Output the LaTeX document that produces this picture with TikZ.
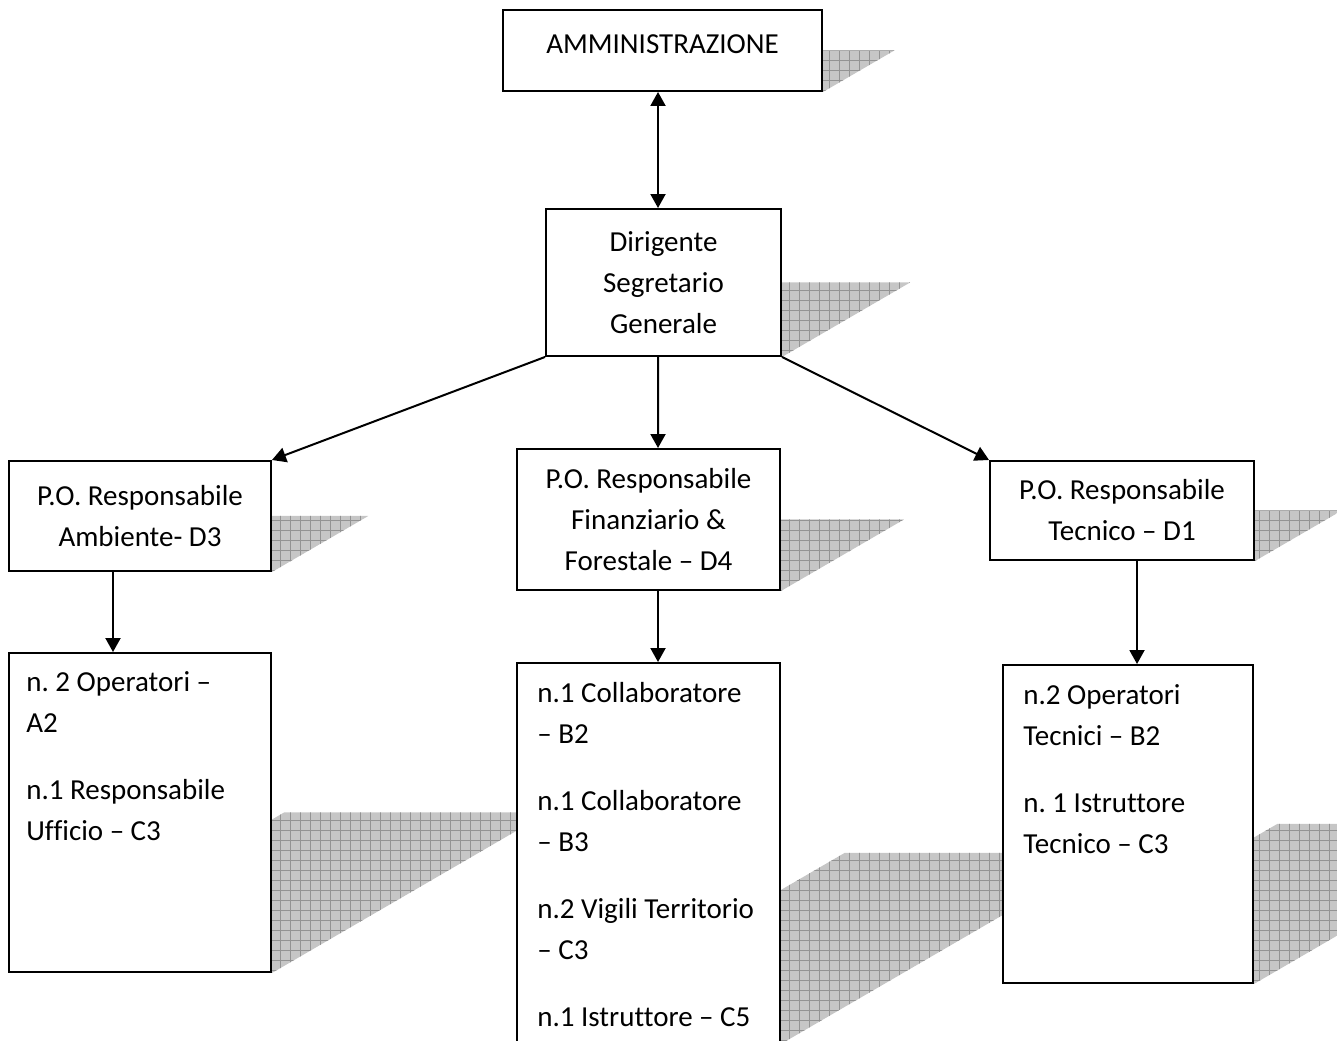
\documentclass[tikz,border=0pt]{standalone}
\usepackage{fontspec}
\setmainfont{Carlito}[Ligatures=NoCommon]
\frenchspacing
\usetikzlibrary{arrows.meta,calc,backgrounds}
\tikzset{
  box/.style={draw, line width=0.04cm, fill=white, inner sep=0pt, align=center},
  arr/.style={line width=0.04cm, -{Triangle[length=0.28cm,width=0.3cm]}},
  dblarr/.style={line width=0.04cm, {Triangle[length=0.28cm,width=0.3cm]}-{Triangle[length=0.28cm,width=0.3cm]}},
  listtext/.style={anchor=north west, inner sep=0pt, align=left},
  shadefill/.style={fill=gray!45},
  shadegrid/.style={draw=gray!85, line width=0.016cm},
}
% slanted half-height shadow behind a box
\newcommand{\boxshadow}[1]{%
  \begin{scope}
    \clip let \p1=(#1.south west), \p2=(#1.north east), \n1={0.5*(\y2-\y1)} in
      (\x1,\y1) -- (\x2,\y1) -- (\x2+1.72*\n1,\y1+\n1) -- (\x1+1.72*\n1,\y1+\n1) -- cycle;
    \fill[shadefill] (#1.south west) rectangle ++(700,250);
    \draw[shadegrid, step=0.2cm] (#1.south west) grid ++(700,250);
  \end{scope}}
\begin{document}
\begin{tikzpicture}[x=0.02cm, y=0.02cm, font=\fontsize{16.5pt}{23.3pt}\selectfont]
    \useasboundingbox (0,0) rectangle (1337,1040);
    % top
    \node[box, minimum width=6.38cm, minimum height=1.62cm, text depth=0.24cm] (amm) at (662.5,989.5) {AMMINISTRAZIONE};
    \node[box, minimum width=4.70cm, minimum height=2.94cm] (dir) at (663.5,757.5) {Dirigente\\Segretario\\Generale};
    % P.O.
    \node[box, minimum width=5.24cm, minimum height=2.20cm] (poA) at (140,524) {P.O. Responsabile\\Ambiente- D3};
    \node[box, minimum width=5.26cm, minimum height=2.82cm] (poF) at (648.5,520.5) {P.O. Responsabile\\Finanziario \&\\Forestale – D4};
    \node[box, minimum width=5.28cm, minimum height=1.98cm] (poT) at (1122,529.5) {P.O. Responsabile\\Tecnico – D1};
    % staff
    \node[box, minimum width=5.24cm, minimum height=6.38cm] (opA) at (140,227.5) {};
    \node[box, minimum width=5.26cm, minimum height=7.60cm] (opF) at (648.5,187) {};
    \node[box, minimum width=5.00cm, minimum height=6.36cm] (opT) at (1128,216) {};
    \node[listtext] (opAtxt) at ($(opA.north west)+(18,-19)$) {n. 2 Operatori –\\A2\\[0.52cm]n.1 Responsabile\\Ufficio – C3};
    \node[listtext] (opFtxt) at ($(opF.north west)+(21,-20)$) {n.1 Collaboratore\\– B2\\[0.52cm]n.1 Collaboratore\\– B3\\[0.52cm]n.2 Vigili Territorio\\– C3\\[0.52cm]n.1 Istruttore – C5};
    \node[listtext] (opTtxt) at ($(opT.north west)+(21,-20)$) {n.2 Operatori\\Tecnici – B2\\[0.52cm]n. 1 Istruttore\\Tecnico – C3};
    % shadows
    \begin{pgfonlayer}{background}
        \boxshadow{amm}
        \boxshadow{dir}
        \boxshadow{poA}
        \boxshadow{poF}
        \boxshadow{poT}
        \boxshadow{opA}
        \boxshadow{opF}
        \boxshadow{opT}
    \end{pgfonlayer}
    % arrows
    \draw[dblarr] ($(amm.south)+(-4.5,0)$) -- ($(dir.north)+(-5.5,0)$);
    \draw[arr] (dir.south west) -- (poA.north east);
    \draw[arr] ($(dir.south)+(-5.5,0)$) -- ($(poF.north)+(9.5,0)$);
    \draw[arr] (dir.south east) -- (poT.north west);
    \draw[arr] ($(poA.south)+(-27,0)$) -- ($(opA.north)+(-27,0)$);
    \draw[arr] ($(poF.south)+(9.5,0)$) -- ($(opF.north)+(9.5,0)$);
    \draw[arr] ($(poT.south)+(15,0)$) -- ($(opT.north)+(9,0)$);
\end{tikzpicture}
\end{document}
